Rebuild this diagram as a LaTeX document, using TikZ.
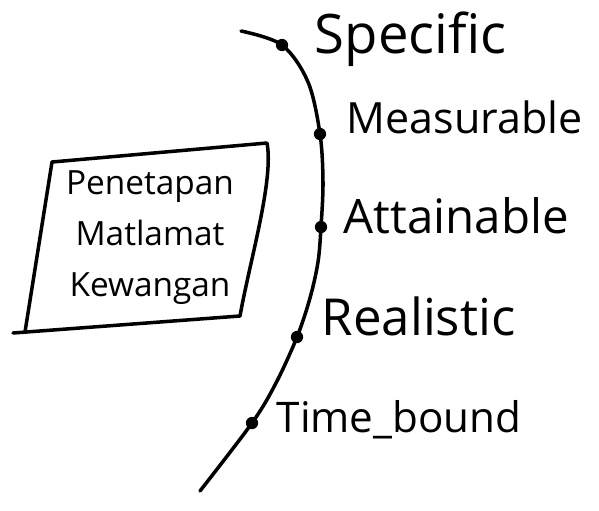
\documentclass[tikz,border=0pt]{standalone}
\usepackage{fontspec}
\setmainfont{Open Sans}
\begin{document}
\begin{tikzpicture}[x=0.02cm, y=-0.02cm, line width=2pt, line cap=round, line join=round,
  dot/.style={circle, fill, inner sep=0pt, minimum size=7pt},
  lbl/.style={anchor=base west, inner sep=0pt}]
  \useasboundingbox (0,0) rectangle (599,511);
  % box
  \draw (52,162) -- (267,143) .. controls (274,180) and (250,260) .. (240,316) -- (13,333);
  \draw (52,162) -- (25,332);
  \node[align=center, inner sep=0pt, font=\fontsize{19}{29}\selectfont] (goal) at (150,238)
    {Penetapan\\Matlamat\\Kewangan};
  % curve through the five points
  \foreach \nm/\px/\py in {s/282/45, m/320/134, a/321/227, r/297/337, t/252/423}{
    \coordinate (c\nm) at (\px,\py);
  }
  \draw plot[smooth, tension=0.55] coordinates
    {(241,31) (cs) (308,82) (cm) (323,182) (ca) (318,262) (310,298) (cr) (276,383) (ct) (200,491)};
  \foreach \nm in {s,m,a,r,t}{
    \node[dot] (d\nm) at (c\nm) {};
  }
  \foreach \nm/\px/\py/\fs/\tx in {s/313/53/31/Specific, m/345/133/24.5/Measurable,
                                   a/342/233/27/Attainable, r/320/335/29/Realistic,
                                   t/275/432/24/Time\_bound}{
    \node[lbl, font=\fontsize{\fs}{\fs}\selectfont] (l\nm) at (\px,\py) {\tx};
  }
\end{tikzpicture}
\end{document}
